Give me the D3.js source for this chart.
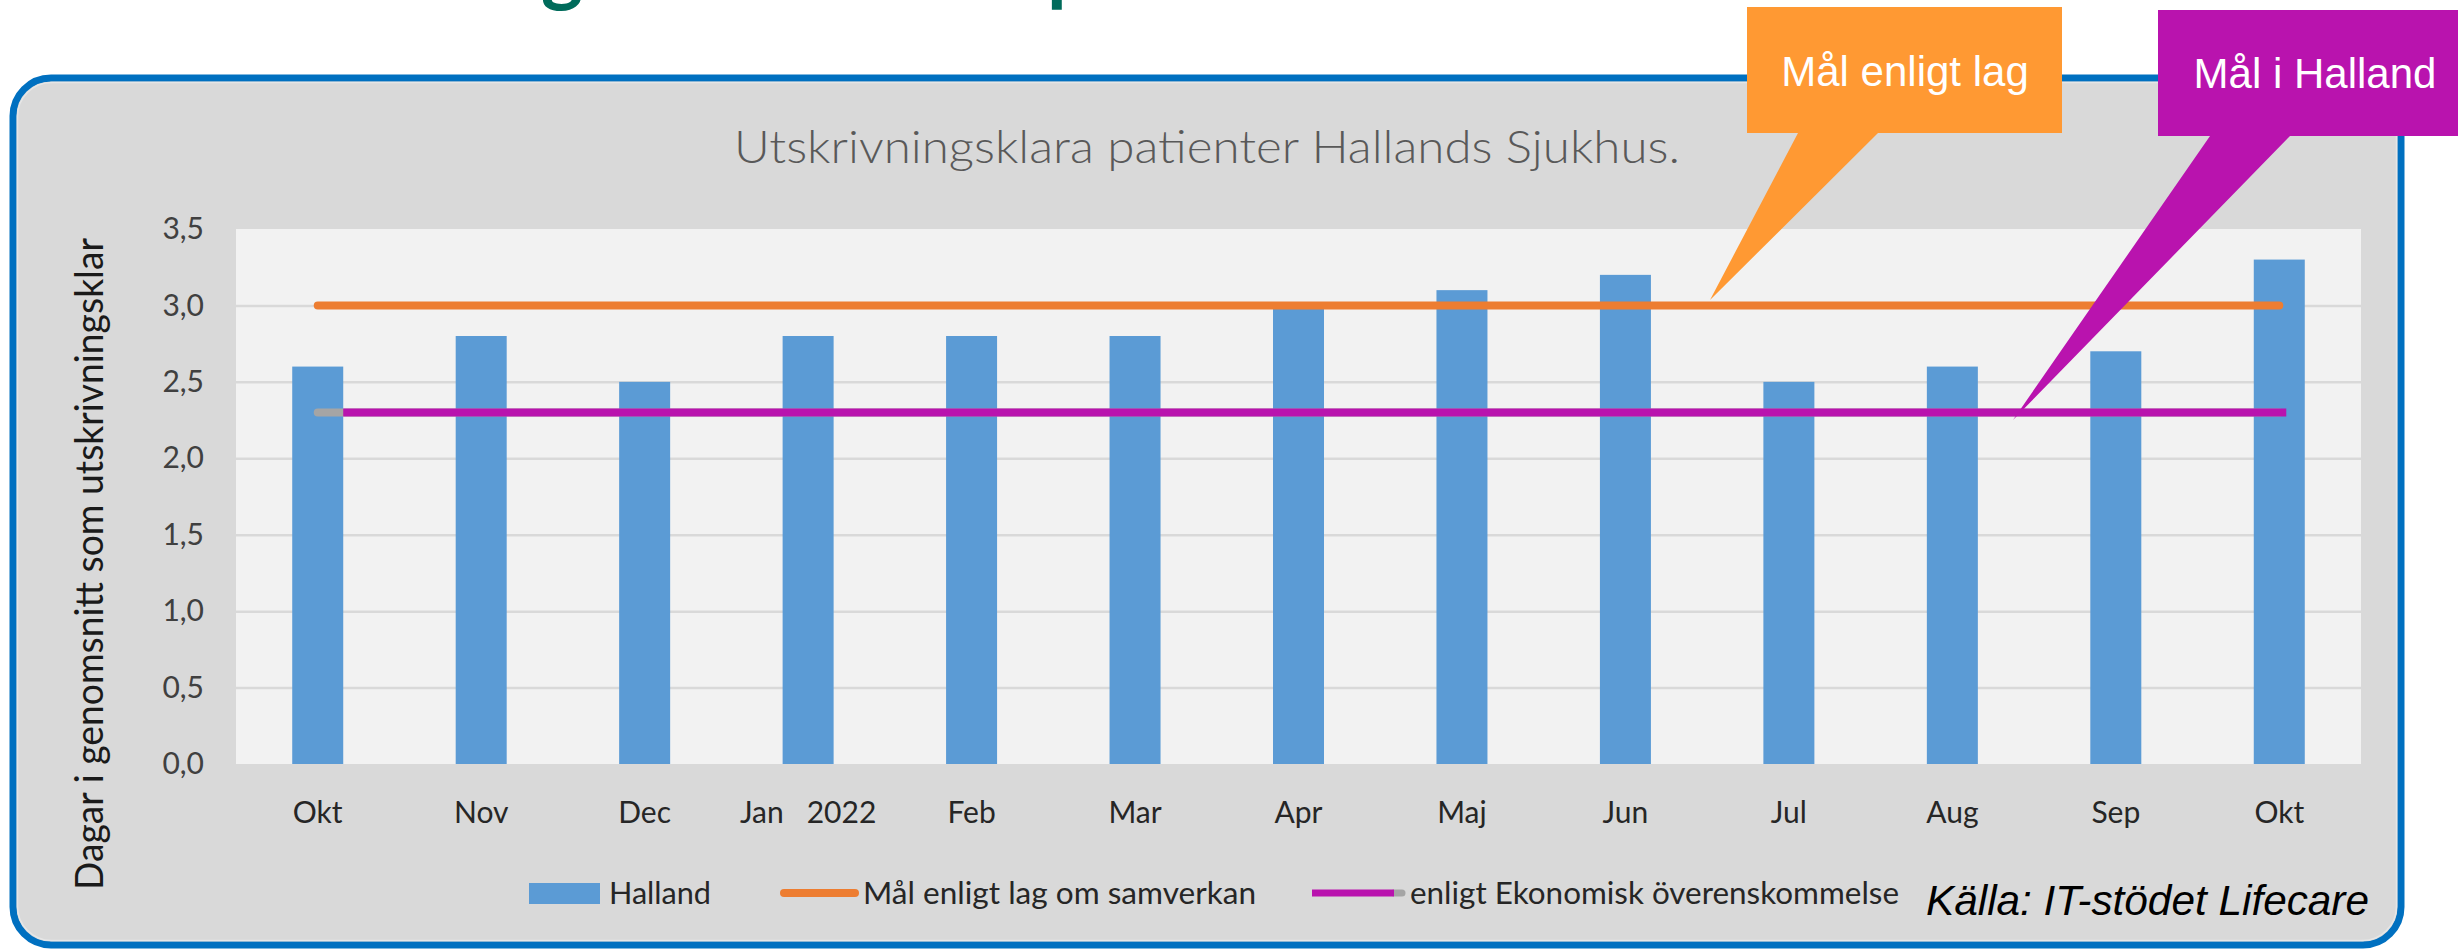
<!DOCTYPE html>
<html>
<head>
<meta charset="utf-8">
<script src="https://cdn.jsdelivr.net/npm/d3@7"></script>
<style>
  html, body { margin: 0; padding: 0; background: #ffffff; }
  svg { display: block; }
  text { white-space: pre; }
</style>
</head>
<body>
<script>
// ---- data ----
const months = ["Okt", "Nov", "Dec", "Jan   2022", "Feb", "Mar", "Apr", "Maj", "Jun", "Jul", "Aug", "Sep", "Okt"];
const halland = [2.6, 2.8, 2.5, 2.8, 2.8, 2.8, 3.0, 3.1, 3.2, 2.5, 2.6, 2.7, 3.3];
const malLag = [3.0, 3.0, 3.0, 3.0, 3.0, 3.0, 3.0, 3.0, 3.0, 3.0, 3.0, 3.0, 3.0];
const malHalland = [2.3, 2.3, 2.3, 2.3, 2.3, 2.3, 2.3, 2.3, 2.3, 2.3, 2.3, 2.3, 2.3];
const yTicks = [0, 0.5, 1.0, 1.5, 2.0, 2.5, 3.0, 3.5];
const gridTicks = [0.5, 1.0, 1.5, 2.0, 2.5, 3.0];
const chartTitle = "Utskrivningsklara patienter Hallands Sjukhus.";
const yTitle = "Dagar i genomsnitt som utskrivningsklar";
const legendLabels = ["Halland", "Mål enligt lag om samverkan", "enligt Ekonomisk överenskommelse"];
const sourceText = "Källa: IT-stödet Lifecare";
const calloutLag = "Mål enligt lag";
const calloutHalland = "Mål i Halland";

const W = 2458, H = 950;
const svg = d3.select("body").append("svg").attr("width", W).attr("height", H);

const FONT = "Lato, 'Open Sans', sans-serif";
const ARIAL = "'Liberation Sans', Arial, sans-serif";

// heading fragments (cut off at top)
svg.append("text").attr("x", 541).attr("y", -4).attr("font-family", FONT).attr("font-weight", 700)
  .attr("font-size", 80).attr("fill", "#006b5b").text("g");
svg.append("text").attr("x", 1047).attr("y", -4).attr("font-family", FONT).attr("font-weight", 700)
  .attr("font-size", 80).attr("fill", "#006b5b").text("p");

// outer rounded panel
svg.append("rect").attr("x", 13).attr("y", 78).attr("width", 2388).attr("height", 867)
  .attr("rx", 38).attr("ry", 38).attr("fill", "#d9d9d9")
  .attr("stroke", "#0070c0").attr("stroke-width", 7);
svg.append("rect").attr("x", 17.5).attr("y", 82.5).attr("width", 2379).attr("height", 858)
  .attr("rx", 34).attr("ry", 34).attr("fill", "none")
  .attr("stroke", "#e6e6e6").attr("stroke-width", 1.5);

// scales
const plotL = 236, plotR = 2361, plotT = 229, plotB = 764;
const x = d3.scaleBand().domain(d3.range(months.length)).range([plotL, plotR])
  .paddingInner(0.688).paddingOuter(0.344);
const y = d3.scaleLinear().domain([0, 3.5]).range([plotB, plotT]);

// plot background
svg.append("rect").attr("x", plotL).attr("y", plotT).attr("width", plotR - plotL)
  .attr("height", plotB - plotT).attr("fill", "#f2f2f2");

// gridlines
const grid = svg.append("g").attr("transform", `translate(${plotL},0)`)
  .call(d3.axisLeft(y).tickValues(gridTicks).tickSize(-(plotR - plotL)).tickFormat(""));
grid.select(".domain").remove();
grid.selectAll("line").attr("stroke", "#d9d9d9").attr("stroke-width", 2.5);

// chart title
svg.append("text").attr("x", 734).attr("y", 163).attr("font-family", FONT).attr("font-weight", 300)
  .attr("font-size", 46).attr("fill", "#595959")
  .attr("textLength", 946).attr("lengthAdjust", "spacingAndGlyphs").text(chartTitle);

// bars
svg.append("g").selectAll("rect").data(halland).join("rect")
  .attr("x", (d, i) => x(i)).attr("width", x.bandwidth())
  .attr("y", d => y(d)).attr("height", d => y(0) - y(d))
  .attr("fill", "#5b9bd5");

const cx = i => x(i) + x.bandwidth() / 2;

// target line: lag
svg.append("path").datum(malLag)
  .attr("d", d3.line().x((d, i) => cx(i)).y(d => y(d)))
  .attr("fill", "none").attr("stroke", "#ed7d31").attr("stroke-width", 8).attr("stroke-linecap", "round");

// target line: Halland (grey series) + magenta overlay
svg.append("path").datum(malHalland)
  .attr("d", d3.line().x((d, i) => cx(i)).y(d => y(d)))
  .attr("fill", "none").attr("stroke", "#a5a5a5").attr("stroke-width", 8).attr("stroke-linecap", "round");
const last = malHalland.length - 1;
svg.append("line")
  .attr("x1", x(0) + x.bandwidth()).attr("x2", cx(last) + 7)
  .attr("y1", y(malHalland[0])).attr("y2", y(malHalland[last]))
  .attr("stroke", "#b913ae").attr("stroke-width", 8);

// y axis
const yAxis = svg.append("g").attr("transform", `translate(${plotL},0)`)
  .call(d3.axisLeft(y).tickValues(yTicks).tickSize(0).tickPadding(32)
    .tickFormat(d => d3.format(".1f")(d).replace(".", ",")));
yAxis.select(".domain").remove();
yAxis.selectAll("text").attr("font-family", FONT).attr("font-size", 30).attr("fill", "#404040");

// x axis
const xAxis = svg.append("g").attr("transform", `translate(0,${plotB})`)
  .call(d3.axisBottom(x).tickSize(0).tickFormat(i => months[i]));
xAxis.select(".domain").remove();
xAxis.selectAll("text").attr("y", 59).attr("dy", null)
  .attr("font-family", FONT).attr("font-size", 30).attr("fill", "#262626");

// y axis title
svg.append("text").attr("transform", "translate(103,564) rotate(-90)")
  .attr("text-anchor", "middle").attr("font-family", FONT).attr("font-size", 38).attr("fill", "#1a1a1a")
  .attr("textLength", 652).attr("lengthAdjust", "spacingAndGlyphs").text(yTitle);

// legend
const lg = svg.append("g");
lg.append("rect").attr("x", 529).attr("y", 883).attr("width", 71).attr("height", 21).attr("fill", "#5b9bd5");
lg.append("text").attr("x", 609).attr("y", 904).attr("font-family", FONT).attr("font-size", 30)
  .attr("fill", "#262626").attr("textLength", 102).attr("lengthAdjust", "spacingAndGlyphs").text(legendLabels[0]);
lg.append("line").attr("x1", 784).attr("x2", 855).attr("y1", 893).attr("y2", 893)
  .attr("stroke", "#ed7d31").attr("stroke-width", 8).attr("stroke-linecap", "round");
lg.append("text").attr("x", 863).attr("y", 904).attr("font-family", FONT).attr("font-size", 30)
  .attr("fill", "#262626").attr("textLength", 393).attr("lengthAdjust", "spacingAndGlyphs").text(legendLabels[1]);
lg.append("line").attr("x1", 1394).attr("x2", 1402).attr("y1", 893).attr("y2", 893)
  .attr("stroke", "#a5a5a5").attr("stroke-width", 7).attr("stroke-linecap", "round");
lg.append("line").attr("x1", 1312).attr("x2", 1394).attr("y1", 893).attr("y2", 893)
  .attr("stroke", "#b913ae").attr("stroke-width", 7);
lg.append("text").attr("x", 1410).attr("y", 904).attr("font-family", FONT).attr("font-size", 30)
  .attr("fill", "#262626").attr("textLength", 489).attr("lengthAdjust", "spacingAndGlyphs").text(legendLabels[2]);

// source
svg.append("text").attr("x", 1926).attr("y", 915).attr("font-family", ARIAL).attr("font-style", "italic")
  .attr("font-size", 42).attr("fill", "#000").attr("textLength", 443).attr("lengthAdjust", "spacingAndGlyphs")
  .text(sourceText);

// callouts
const c1 = svg.append("g");
c1.append("path").attr("d", "M1747,7 H2062 V133 H1878 L1710,300 L1798,133 H1747 Z").attr("fill", "#ff9933");
c1.append("text").attr("x", 1905).attr("y", 86).attr("text-anchor", "middle").attr("font-family", ARIAL)
  .attr("font-size", 42).attr("fill", "#ffffff").text(calloutLag);

const c2 = svg.append("g");
c2.append("path").attr("d", "M2158,10 H2458 V136 H2290 L2013,420 L2210,136 H2158 Z").attr("fill", "#b913ae");
c2.append("text").attr("x", 2315).attr("y", 88).attr("text-anchor", "middle").attr("font-family", ARIAL)
  .attr("font-size", 42).attr("fill", "#ffffff").text(calloutHalland);
</script>
</body>
</html>
